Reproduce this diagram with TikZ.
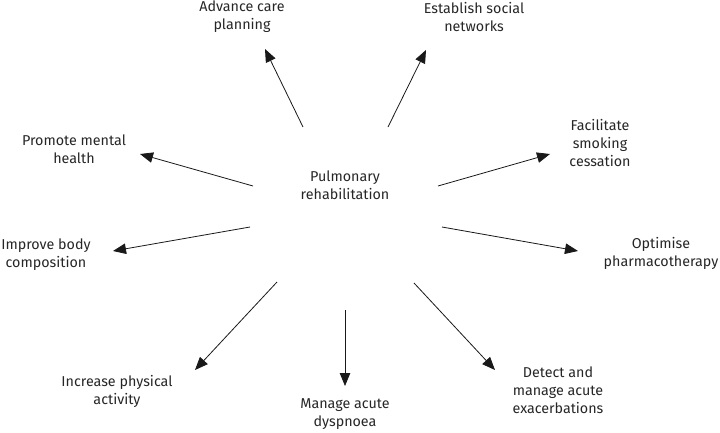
\documentclass[tikz,border=0pt]{standalone}
\usepackage{fontspec}
\setmainfont{Fira Sans}
\usetikzlibrary{arrows.meta}
\tikzset{
  goal/.style={align=center, inner sep=0pt, text=black!85,
    font=\fontsize{14.3}{18}\selectfont},
  link/.style={line width=0.8pt, black!90,
    -{Triangle[length=13pt,width=10.5pt]}}
}
\begin{document}
\begin{tikzpicture}[x=1pt,y=-1pt]
      \useasboundingbox (0,0) rectangle (720,432);
      \draw
        (345,185) node[goal] (pr){Pulmonary\\rehabilitation}
        (242,17) node[goal] (advance){Advance care\\planning}
        (474,17) node[goal] (social){Establish social\\networks}
        (600,143) node[goal] (smoking){Facilitate\\smoking\\cessation}
        (661,253) node[goal] (pharma){Optimise\\pharmacotherapy}
        (558,390) node[goal] (exacerb){Detect and\\manage acute\\exacerbations}
        (345,414) node[goal] (dyspnoea){Manage acute\\dyspnoea}
        (117,391) node[goal] (activity){Increase physical\\activity}
        (46,255) node[goal] (body){Improve body\\composition}
        (74,149) node[goal] (mental){Promote mental\\health};
      % tails and tips of the arrows
      \path
        (303,127) coordinate (t1) (265,49) coordinate (h1)
        (388,127) coordinate (t2) (426,50) coordinate (h2)
        (438,186) coordinate (t3) (550,154) coordinate (h3)
        (442,227) coordinate (t4) (578,251) coordinate (h4)
        (414,283) coordinate (t5) (495,370) coordinate (h5)
        (345,310) coordinate (t6) (345,386) coordinate (h6)
        (277,282) coordinate (t7) (195,370) coordinate (h7)
        (250,227) coordinate (t8) (113,251) coordinate (h8)
        (253,186) coordinate (t9) (140,154) coordinate (h9);
      \begin{scope}[link]
        \foreach \i in {1,...,9}
          \draw (t\i) to (h\i);
      \end{scope}
    \end{tikzpicture}
\end{document}
